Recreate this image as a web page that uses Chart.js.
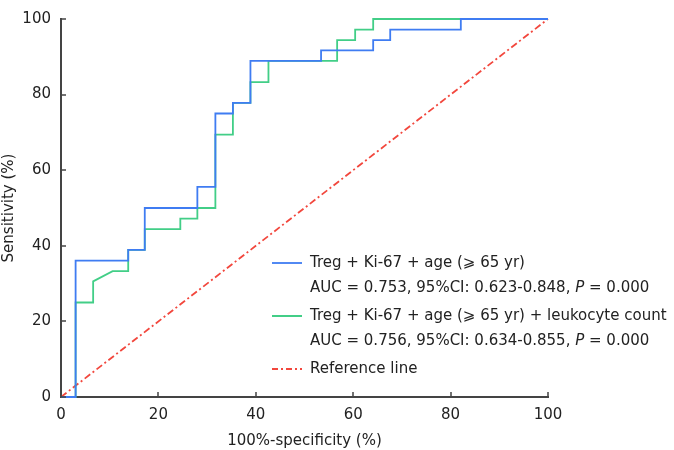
<!DOCTYPE html>
<html>
<head>
<meta charset="utf-8">
<script src="https://cdn.jsdelivr.net/npm/chart.js@4.4.1/dist/chart.umd.min.js"></script>
<style>
  html, body { margin: 0; padding: 0; background: #fff; }
  #wrap { width: 674px; height: 450px; }
</style>
</head>
<body>
<div id="wrap"><canvas id="roc"></canvas></div>
<script>
// --- DATA ---
const xTicks = [0, 20, 40, 60, 80, 100];
const yTicks = [0, 20, 40, 60, 80, 100];

// Treg + Ki-67 + age
const blueX = [0, 3.0, 3.0, 13.8, 13.8, 17.2, 17.2, 28.0, 28.0, 31.7, 31.7, 35.3, 35.3, 38.9, 38.9, 53.4, 53.4, 64.1, 64.1, 67.6, 67.6, 82.1, 82.1, 100];
const blueY = [0, 0, 36.1, 36.1, 38.9, 38.9, 50, 50, 55.6, 55.6, 75, 75, 77.8, 77.8, 88.9, 88.9, 91.7, 91.7, 94.4, 94.4, 97.2, 97.2, 100, 100];

// Treg + Ki-67 + age + leukocyte count
const greenX = [0, 3.0, 3.0, 6.6, 6.6, 10.6, 13.8, 13.8, 17.2, 17.2, 24.5, 24.5, 28.0, 28.0, 31.7, 31.7, 35.3, 35.3, 38.9, 38.9, 42.6, 42.6, 56.7, 56.7, 60.4, 60.4, 64.1, 64.1, 100];
const greenY = [0, 0, 25, 25, 30.6, 33.3, 33.3, 38.9, 38.9, 44.4, 44.4, 47.2, 47.2, 50, 50, 69.4, 69.4, 77.8, 77.8, 83.3, 83.3, 88.9, 88.9, 94.4, 94.4, 97.2, 97.2, 100, 100];

const refX = [0, 100];
const refY = [0, 100];

const legendRows = [
    { color: '#3f7cf2', dash: [], lines: ['Treg + Ki-67 + age (\u2A7E 65 yr)', 'AUC = 0.753, 95%CI: 0.623-0.848, |P| = 0.000'] },
    { color: '#2ec97a', dash: [], lines: ['Treg + Ki-67 + age (\u2A7E 65 yr) + leukocyte count', 'AUC = 0.756, 95%CI: 0.634-0.855, |P| = 0.000'] },
    { color: '#f2473d', dash: [6, 3, 2, 3], lines: ['Reference line'] }
];

const FONT = '"DejaVu Sans", Verdana, sans-serif';
const AXIS_COLOR = '#444';

const toPoints = (xs, ys) => xs.map((x, i) => ({ x: x, y: ys[i] }));

// --- PLUGINS ---
// inward tick marks on both axes
const innerTicks = {
    id: 'innerTicks',
    afterDatasetsDraw(chart) {
        const { ctx, chartArea, scales } = chart;
        ctx.save();
        ctx.strokeStyle = AXIS_COLOR;
        ctx.lineWidth = 1.5;
        ctx.beginPath();
        xTicks.forEach(v => {
            const px = Math.round(scales.x.getPixelForValue(v));
            ctx.moveTo(px, chartArea.bottom);
            ctx.lineTo(px, chartArea.bottom - 5);
        });
        yTicks.forEach(v => {
            const py = Math.round(scales.y.getPixelForValue(v));
            ctx.moveTo(chartArea.left, py);
            ctx.lineTo(chartArea.left + 5, py);
        });
        ctx.stroke();
        ctx.restore();
    }
};

// two-line legend entries, drawn by hand
const rocLegend = {
    id: 'rocLegend',
    afterDraw(chart) {
        const ctx = chart.ctx;
        const x0 = 272, x1 = 302, tx = 310;
        let y = 263;
        ctx.save();
        ctx.textBaseline = 'middle';
        legendRows.forEach(row => {
            ctx.strokeStyle = row.color;
            ctx.lineWidth = 1.8;
            ctx.setLineDash(row.dash);
            ctx.beginPath();
            ctx.moveTo(x0, y);
            ctx.lineTo(x1, y);
            ctx.stroke();
            ctx.setLineDash([]);
            row.lines.forEach((line, i) => {
                // |P| marks the italic part
                const parts = line.split('|');
                let cx = tx;
                parts.forEach((p, k) => {
                    ctx.font = (k % 2 ? 'italic ' : '') + '15px ' + FONT;
                    ctx.fillStyle = '#222';
                    ctx.fillText(p, cx, y + i * 25);
                    cx += ctx.measureText(p).width;
                });
            });
            y += row.lines.length === 2 ? 53 : 28;
        });
        ctx.restore();
    }
};

// --- CHART ---
new Chart(document.getElementById('roc'), {
    type: 'line',
    data: {
        datasets: [
            {
                label: 'Treg + Ki-67 + age',
                data: toPoints(blueX, blueY),
                borderColor: '#3f7cf2',
                borderWidth: 1.8,
                pointRadius: 0,
                tension: 0,
                clip: false
            },
            {
                label: 'Treg + Ki-67 + age + leukocyte count',
                data: toPoints(greenX, greenY),
                borderColor: 'rgba(46, 201, 122, 0.9)',
                borderWidth: 1.8,
                pointRadius: 0,
                tension: 0,
                clip: false
            },
            {
                label: 'Reference line',
                data: toPoints(refX, refY),
                borderColor: '#f2473d',
                borderWidth: 1.8,
                borderDash: [7, 3, 2, 3],
                pointRadius: 0,
                clip: false
            }
        ]
    },
    options: {
        responsive: true,
        maintainAspectRatio: false,
        animation: false,
        layout: { padding: { top: 9, right: 126, bottom: 0, left: 0 } },
        plugins: {
            legend: { display: false },
            tooltip: { enabled: false }
        },
        scales: {
            x: {
                type: 'linear',
                min: 0,
                max: 100,
                afterFit: s => { s.height = 53; },
                afterBuildTicks: s => { s.ticks = xTicks.map(v => ({ value: v })); },
                grid: { display: false, drawTicks: false },
                border: { display: true, color: AXIS_COLOR, width: 2 },
                ticks: { color: '#222', padding: 9, maxRotation: 0, font: { family: FONT, size: 15 } },
                title: {
                    display: true,
                    text: '100%-specificity (%)',
                    color: '#222',
                    padding: { top: 0, bottom: 0 },
                    font: { family: FONT, size: 15 }
                }
            },
            y: {
                type: 'linear',
                min: 0,
                max: 100,
                afterFit: s => { s.width = 61; },
                afterBuildTicks: s => { s.ticks = yTicks.map(v => ({ value: v })); },
                grid: { display: false, drawTicks: false },
                border: { display: true, color: AXIS_COLOR, width: 2 },
                ticks: { color: '#222', padding: 10, font: { family: FONT, size: 15 } },
                title: {
                    display: true,
                    text: 'Sensitivity (%)',
                    color: '#222',
                    padding: { top: 0, bottom: 0 },
                    font: { family: FONT, size: 15 }
                }
            }
        }
    },
    plugins: [innerTicks, rocLegend]
});
</script>
</body>
</html>
